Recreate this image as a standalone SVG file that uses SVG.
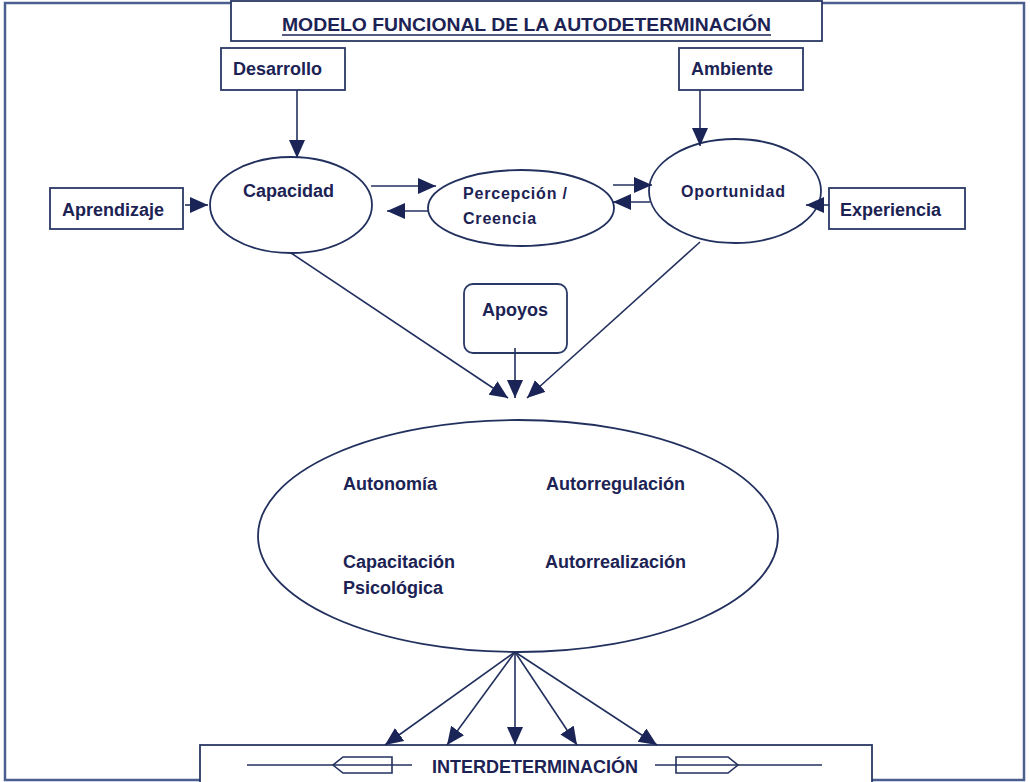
<svg xmlns="http://www.w3.org/2000/svg" width="1030" height="782" viewBox="0 0 1030 782">
  <defs>
    <style>
      .frame{fill:none;stroke:#4a5f8e;stroke-width:2.5}
      .box{fill:#ffffff;stroke:#2a3866;stroke-width:1.8}
      .ell{fill:#ffffff;stroke:#22305e;stroke-width:1.8}
      .t{font-family:"Liberation Sans",Arial,sans-serif;font-weight:bold;font-size:18px;fill:#1c2354}
      .ts{font-family:"Liberation Sans",Arial,sans-serif;font-weight:bold;font-size:16px;fill:#1c2354;letter-spacing:0.8px}
      .ln{fill:none;stroke:#22305e;stroke-width:1.6}
      .arr{fill:none;stroke:#22305e;stroke-width:1.6;marker-end:url(#ah)}
    </style>
    <marker id="ah" markerUnits="userSpaceOnUse" markerWidth="20" markerHeight="18" refX="18" refY="8" orient="auto">
      <path d="M0,0 L18,8 L0,16 Z" fill="#1a2456"/>
    </marker>
  </defs>
  <rect width="1030" height="782" fill="#ffffff"/>
  <rect class="frame" x="5" y="3" width="1019" height="777"/>

  <g id="title">
    <rect class="box" x="231" y="1" width="591" height="40"/>
    <text class="t" x="282" y="31" font-size="19" textLength="489" lengthAdjust="spacingAndGlyphs">MODELO FUNCIONAL DE LA AUTODETERMINACIÓN</text>
    <line x1="282" y1="35" x2="771" y2="35" stroke="#1c2354" stroke-width="1.5"/>
  </g>

  <g id="desarrollo">
    <rect class="box" x="221" y="48" width="124" height="42"/>
    <text class="t" x="233" y="75">Desarrollo</text>
  </g>
  <g id="ambiente">
    <rect class="box" x="679" y="48" width="124" height="42"/>
    <text class="t" x="691" y="75">Ambiente</text>
  </g>
  <g id="aprendizaje">
    <rect class="box" x="50" y="188" width="133" height="41"/>
    <text class="t" x="62" y="216">Aprendizaje</text>
  </g>
  <g id="experiencia">
    <rect class="box" x="829" y="188" width="136" height="41"/>
    <text class="t" x="840" y="216">Experiencia</text>
  </g>
  <g id="capacidad">
    <ellipse class="ell" cx="291" cy="205" rx="81" ry="48"/>
    <text class="t" x="243" y="197">Capacidad</text>
  </g>
  <g id="percepcion">
    <ellipse class="ell" cx="521" cy="208" rx="93" ry="38"/>
    <text class="ts" x="463" y="199">Percepción /</text>
    <text class="ts" x="463" y="224">Creencia</text>
  </g>
  <g id="oportunidad">
    <ellipse class="ell" cx="735" cy="191" rx="86" ry="52"/>
    <text class="ts" x="681" y="197">Oportunidad</text>
  </g>
  <g id="apoyos">
    <rect class="box" x="464" y="284" width="103" height="69" rx="9" ry="9"/>
    <text class="t" x="482" y="316">Apoyos</text>
  </g>
  <g id="autodeterminacion">
    <ellipse class="ell" cx="518" cy="536" rx="260" ry="116"/>
    <text class="t" x="343" y="490">Autonomía</text>
    <text class="t" x="546" y="490">Autorregulación</text>
    <text class="t" x="343" y="568">Capacitación</text>
    <text class="t" x="343" y="594">Psicológica</text>
    <text class="t" x="545" y="568">Autorrealización</text>
  </g>
  <g id="interdeterminacion">
    <rect class="box" x="200" y="745" width="672" height="42"/>
    <text class="t" x="432" y="773">INTERDETERMINACIÓN</text>
    <line class="ln" x1="247" y1="765" x2="412" y2="765"/>
    <path class="ln" d="M392,757 L343,757 L333,765 L343,773 L392,773 Z" fill="#ffffff"/>
    <line class="ln" x1="655" y1="765" x2="822" y2="765"/>
    <path class="ln" d="M676,757 L728,757 L738,765 L728,773 L676,773 Z" fill="#ffffff"/>
  </g>

  <g id="connectors">
    <line class="arr" x1="297" y1="90" x2="297" y2="158"/>
    <line class="arr" x1="700" y1="90" x2="700" y2="146"/>
    <line class="arr" x1="185" y1="205" x2="208" y2="205"/>
    <line class="arr" x1="829" y1="205" x2="806" y2="205"/>
    <line class="arr" x1="371" y1="186" x2="436" y2="186"/>
    <line class="arr" x1="428" y1="211" x2="387" y2="211"/>
    <line class="arr" x1="613" y1="185" x2="652" y2="185"/>
    <line class="arr" x1="650" y1="202" x2="613" y2="202"/>
    <line class="arr" x1="291" y1="253" x2="508" y2="398"/>
    <line class="arr" x1="515" y1="348" x2="515" y2="398"/>
    <line class="arr" x1="700" y1="242" x2="527" y2="398"/>
    <line class="arr" x1="515" y1="652" x2="385" y2="745"/>
    <line class="arr" x1="515" y1="652" x2="447" y2="745"/>
    <line class="arr" x1="515" y1="652" x2="515" y2="745"/>
    <line class="arr" x1="515" y1="652" x2="577" y2="745"/>
    <line class="arr" x1="515" y1="652" x2="657" y2="745"/>
  </g>
</svg>
